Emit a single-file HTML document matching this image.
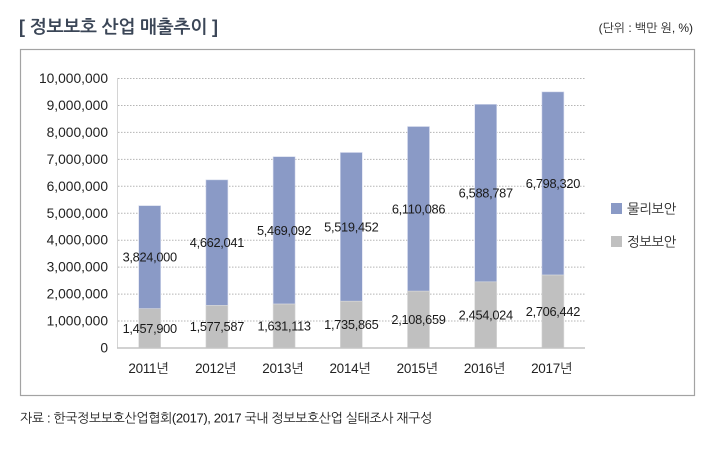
<!DOCTYPE html>
<html><head><meta charset="utf-8">
<style>
html,body{margin:0;padding:0;background:#fff;}
body{width:710px;height:452px;overflow:hidden;}
svg{display:block;}
text{font-family:"Liberation Sans","NanumGothic","Noto Sans CJK KR",sans-serif;}
</style></head>
<body>
<svg width="710" height="452" viewBox="0 0 710 452" xmlns="http://www.w3.org/2000/svg">
<rect x="0" y="0" width="710" height="452" fill="#fff"/>
<!-- title -->
<text x="19" y="27" font-size="18" font-weight="bold" fill="#3b4657" dominant-baseline="central" letter-spacing="-0.15">[ 정보보호 산업 매출추이 ]</text>
<text x="693" y="28" font-size="12" fill="#222" text-anchor="end" dominant-baseline="central" letter-spacing="-0.05">(단위 : 백만 원, %)</text>
<!-- frame -->
<rect x="20.5" y="49.5" width="674" height="346" fill="none" stroke="#a3a3a3" stroke-width="1.2"/>
<!-- gridlines -->
<g stroke="#b5b5b5" stroke-width="1" stroke-dasharray="1.5,1.5">
<line x1="118" x2="585" y1="78.5" y2="78.5"/>
<line x1="118" x2="585" y1="105.45" y2="105.45"/>
<line x1="118" x2="585" y1="132.4" y2="132.4"/>
<line x1="118" x2="585" y1="159.35" y2="159.35"/>
<line x1="118" x2="585" y1="186.3" y2="186.3"/>
<line x1="118" x2="585" y1="213.25" y2="213.25"/>
<line x1="118" x2="585" y1="240.2" y2="240.2"/>
<line x1="118" x2="585" y1="267.15" y2="267.15"/>
<line x1="118" x2="585" y1="294.1" y2="294.1"/>
<line x1="118" x2="585" y1="321.05" y2="321.05"/>
</g>
<!-- y axis labels -->
<g font-size="13.8" fill="#222" text-anchor="end" dominant-baseline="central">
<text x="108" y="78.5">10,000,000</text>
<text x="108" y="105.45">9,000,000</text>
<text x="108" y="132.4">8,000,000</text>
<text x="108" y="159.35">7,000,000</text>
<text x="108" y="186.3">6,000,000</text>
<text x="108" y="213.25">5,000,000</text>
<text x="108" y="240.2">4,000,000</text>
<text x="108" y="267.15">3,000,000</text>
<text x="108" y="294.1">2,000,000</text>
<text x="108" y="321.05">1,000,000</text>
<text x="108" y="348">0</text>
</g>
<!-- bars -->
<g stroke="#d8ddee" stroke-width="0.6">
<rect x="138.7" y="205.65" width="22" height="103.06" fill="#8a9ac6"/>
<rect x="138.7" y="308.71" width="22" height="39.29" fill="#c0c0c0" stroke="#dadada"/>
<rect x="205.9" y="179.84" width="22" height="125.64" fill="#8a9ac6"/>
<rect x="205.9" y="305.48" width="22" height="42.52" fill="#c0c0c0" stroke="#dadada"/>
<rect x="273.1" y="156.65" width="22" height="147.39" fill="#8a9ac6"/>
<rect x="273.1" y="304.04" width="22" height="43.96" fill="#c0c0c0" stroke="#dadada"/>
<rect x="340.3" y="152.47" width="22" height="148.75" fill="#8a9ac6"/>
<rect x="340.3" y="301.22" width="22" height="46.78" fill="#c0c0c0" stroke="#dadada"/>
<rect x="407.5" y="126.51" width="22" height="164.66" fill="#8a9ac6"/>
<rect x="407.5" y="291.17" width="22" height="56.83" fill="#c0c0c0" stroke="#dadada"/>
<rect x="474.7" y="104.30" width="22" height="177.56" fill="#8a9ac6"/>
<rect x="474.7" y="281.86" width="22" height="66.14" fill="#c0c0c0" stroke="#dadada"/>
<rect x="541.9" y="91.85" width="22" height="183.21" fill="#8a9ac6"/>
<rect x="541.9" y="275.06" width="22" height="72.94" fill="#c0c0c0" stroke="#dadada"/>
</g>
<!-- axes -->
<line x1="117.5" x2="117.5" y1="78" y2="348" stroke="#d4d4d4" stroke-width="1"/>
<line x1="117" x2="585" y1="348" y2="348" stroke="#c4c4c4" stroke-width="1.4"/>
<!-- data labels -->
<g font-size="12.8" fill="#1a1a1a" text-anchor="middle" dominant-baseline="central" letter-spacing="-0.3">
<text x="149.7" y="257.2">3,824,000</text>
<text x="149.7" y="328.4">1,457,900</text>
<text x="216.9" y="242.7">4,662,041</text>
<text x="216.9" y="326.7">1,577,587</text>
<text x="284.1" y="230.3">5,469,092</text>
<text x="284.1" y="326">1,631,113</text>
<text x="351.3" y="226.8">5,519,452</text>
<text x="351.3" y="324.6">1,735,865</text>
<text x="418.5" y="208.8">6,110,086</text>
<text x="418.5" y="319.6">2,108,659</text>
<text x="485.7" y="193.1">6,588,787</text>
<text x="485.7" y="314.9">2,454,024</text>
<text x="552.9" y="183.5">6,798,320</text>
<text x="552.9" y="311.5">2,706,442</text>
</g>
<!-- x labels -->
<g font-size="13.5" fill="#222" text-anchor="middle" dominant-baseline="central" letter-spacing="-0.3">
<text x="148.5" y="368.5">2011년</text>
<text x="215.7" y="368.5">2012년</text>
<text x="282.9" y="368.5">2013년</text>
<text x="350.1" y="368.5">2014년</text>
<text x="417.3" y="368.5">2015년</text>
<text x="484.5" y="368.5">2016년</text>
<text x="551.7" y="368.5">2017년</text>
</g>
<!-- legend -->
<rect x="611" y="203" width="11" height="11" fill="#8a9ac6"/>
<rect x="611" y="236" width="11" height="11" fill="#c0c0c0"/>
<g font-size="13.5" fill="#222" dominant-baseline="central" letter-spacing="-0.5">
<text x="627" y="209">물리보안</text>
<text x="627" y="242">정보보안</text>
</g>
<!-- footer -->
<text x="20" y="418" font-size="13" fill="#1a1a1a" dominant-baseline="central" letter-spacing="-0.37">자료 : 한국정보보호산업협회(2017), 2017 국내 정보보호산업 실태조사 재구성</text>
</svg>
</body></html>
